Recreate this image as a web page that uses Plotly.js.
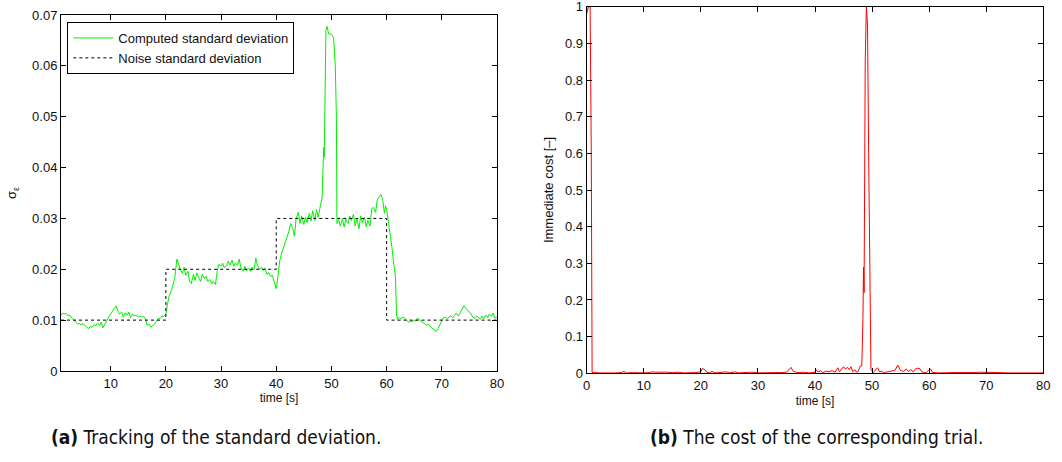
<!DOCTYPE html>
<html>
<head>
<meta charset="utf-8">
<script src="https://cdn.plot.ly/plotly-3.0.1.min.js"></script>
<style>html,body{margin:0;padding:0;background:#fff;}#chart{width:1062px;height:462px;}</style>
</head>
<body>
<div id="chart"></div>
<script>
// ---- Data ----
const computedTime = [1,1.3,1.6,2,2.3,2.6,3,3.3,3.6,4,4.3,4.6,5,5.3,5.6,6,6.3,6.6,7,7.3,7.6,8,8.3,8.6,9,9.3,9.6,10,10.3,10.6,11,11.3,11.6,12,12.3,12.6,13,13.3,13.6,14,14.3,14.6,15,15.3,15.6,16,16.3,16.6,17,17.3,17.6,18,18.3,18.6,19,19.3,19.6,20,20.3,20.6,21,21.3,21.6,22,22.3,22.6,23,23.3,23.6,24,24.3,24.6,25,25.3,25.6,26,26.3,26.6,27,27.3,27.6,28,28.3,28.6,29,29.3,29.6,30,30.3,30.6,31,31.3,31.6,32,32.3,32.6,33,33.3,33.6,34,34.3,34.6,35,35.3,35.6,36,36.3,36.6,37,37.3,37.6,38,38.3,38.6,39,39.3,39.6,40,40.3,40.6,41,41.3,41.6,42,42.3,42.6,43,43.3,43.6,44,44.3,44.6,45,45.3,45.6,46,46.3,46.6,47,47.3,47.6,48,48.3,48.6,48.7,49,49.2,49.5,50,50.4,50.7,50.9,51,51.3,51.6,52,52.3,52.6,53,53.3,53.6,54,54.3,54.6,55,55.3,55.6,56,56.3,56.6,57,57.3,57.6,58,58.3,58.6,59,59.3,59.6,59.8,60,60.3,60.6,61,61.3,61.6,61.8,62,62.3,62.6,63,63.3,63.6,64,64.3,64.6,65,65.3,65.6,66,66.3,66.6,67,67.3,67.6,68,68.3,68.6,69,69.3,69.6,70,70.3,70.6,71,71.3,71.6,72,72.3,72.6,73,73.3,73.6,74,74.3,74.6,75,75.3,75.6,76,76.3,76.6,77,77.3,77.6,78,78.3,78.6,79,79.3,79.6,80];
const computedStd = [0.0110,0.0114,0.0112,0.0113,0.0108,0.0110,0.0104,0.0100,0.0096,0.0092,0.0094,0.0091,0.0093,0.0089,0.0087,0.0083,0.0088,0.0086,0.0091,0.0089,0.0094,0.0090,0.0096,0.0085,0.0092,0.0099,0.0106,0.0112,0.0116,0.0120,0.0128,0.0118,0.0112,0.0116,0.0106,0.0114,0.0110,0.0116,0.0105,0.0112,0.0108,0.0110,0.0106,0.0108,0.0106,0.0107,0.0102,0.0090,0.0092,0.0086,0.0089,0.0093,0.0098,0.0103,0.0104,0.0108,0.0107,0.0112,0.0132,0.0148,0.0158,0.0168,0.0182,0.0220,0.0208,0.0200,0.0192,0.0204,0.0188,0.0196,0.0176,0.0172,0.0190,0.0178,0.0193,0.0184,0.0176,0.0190,0.0182,0.0186,0.0176,0.0180,0.0172,0.0176,0.0170,0.0196,0.0210,0.0206,0.0212,0.0203,0.0207,0.0216,0.0208,0.0218,0.0206,0.0212,0.0208,0.0220,0.0203,0.0196,0.0206,0.0198,0.0202,0.0196,0.0204,0.0200,0.0222,0.0207,0.0200,0.0204,0.0198,0.0202,0.0190,0.0194,0.0186,0.0188,0.0178,0.0162,0.0185,0.0215,0.0232,0.0242,0.0250,0.0268,0.0275,0.0290,0.0280,0.0265,0.0300,0.0312,0.0290,0.0305,0.0288,0.0302,0.0292,0.0310,0.0295,0.0315,0.0296,0.0318,0.0302,0.0325,0.0340,0.0440,0.0420,0.0670,0.0678,0.0663,0.0662,0.0655,0.0600,0.0500,0.0290,0.0298,0.0285,0.0300,0.0283,0.0298,0.0290,0.0305,0.0296,0.0308,0.0285,0.0300,0.0280,0.0305,0.0292,0.0302,0.0283,0.0296,0.0285,0.0318,0.0322,0.0312,0.0336,0.0342,0.0347,0.0335,0.0310,0.0325,0.0318,0.0295,0.0275,0.0240,0.0210,0.0185,0.0110,0.0102,0.0105,0.0103,0.0106,0.0102,0.0100,0.0096,0.0098,0.0097,0.0100,0.0098,0.0104,0.0100,0.0097,0.0094,0.0092,0.0090,0.0092,0.0086,0.0083,0.0080,0.0078,0.0083,0.0090,0.0098,0.0105,0.0106,0.0103,0.0106,0.0108,0.0105,0.0110,0.0114,0.0108,0.0115,0.0120,0.0128,0.0124,0.0120,0.0117,0.0112,0.0106,0.0104,0.0108,0.0105,0.0102,0.0108,0.0103,0.0110,0.0105,0.0112,0.0108,0.0114,0.0104,0.0106];

const noiseTime = [1,20,40,60,80];
const noiseStd = [0.01,0.02,0.03,0.01,0.01];

const costTime = [0,0.3,0.6,0.8,0.95,1.5,2,3,4,5,6,6.5,7,8,9,10,11,11.5,12,13,14,15,16,17,18,19,20,20.3,20.7,21,21.5,22,22.5,23.5,24.5,25,26,26.5,28,29,30,31,32,33,34,35,35.8,36.2,36.5,37,38,39,40,40.2,40.5,41,41.3,42,42.3,43,43.5,44,44.3,45,45.3,45.7,46,46.3,46.6,47,47.3,47.6,47.9,48.2,48.4,48.5,48.6,48.8,49,49.2,49.4,49.6,49.8,50.2,50.6,51,51.3,51.7,52,53,53.5,54,54.5,55,55.5,56,56.4,56.8,57.2,57.6,58,58.4,58.8,59.5,60,60.3,60.6,62,64,66,68,69,70,71,72,74,76,78,80];
const costValue = [0.98,1.0,1.0,0.6,0.002,0.003,0.001,0.002,0.001,0.001,0.002,0.005,0.001,0.002,0.001,0.001,0.002,0.004,0.003,0.004,0.003,0.002,0.003,0.001,0.001,0.002,0.004,0.013,0.010,0.003,0.002,0.005,0.001,0.002,0.004,0.001,0.004,0.001,0.002,0.003,0.001,0.002,0.001,0.002,0.002,0.003,0.016,0.005,0.004,0.002,0.003,0.001,0.003,0.010,0.004,0.007,0.002,0.006,0.004,0.007,0.003,0.015,0.004,0.018,0.012,0.016,0.010,0.018,0.004,0.010,0.003,0.006,0.019,0.020,0.15,0.29,0.22,0.85,1.0,0.95,0.6,0.2,0.01,0.003,0.008,0.015,0.004,0.006,0.002,0.004,0.006,0.008,0.022,0.008,0.005,0.012,0.005,0.010,0.004,0.012,0.014,0.012,0.003,0.002,0.010,0.011,0.002,0.001,0.002,0.001,0.002,0.003,0.002,0.001,0.002,0.001,0.002,0.001,0.001];

const leftXTicks = [10,20,30,40,50,60,70,80];
const leftYTicks = [0,0.01,0.02,0.03,0.04,0.05,0.06,0.07];
const rightXTicks = [0,10,20,30,40,50,60,70,80];
const rightYTicks = [0,0.1,0.2,0.3,0.4,0.5,0.6,0.7,0.8,0.9,1];

const legendNames = ['Computed standard deviation','Noise standard deviation'];
const captionA = '<b>(a)</b> Tracking of the standard deviation.';
const captionB = '<b>(b)</b> The cost of the corresponding trial.';

// ---- Chart ----
const W = 1062, H = 462;
const font = 'Liberation Sans, Arial, sans-serif';
const tickFont = {family: font, size: 13, color: '#111'};
const capFont = {family: 'DejaVu Sans Condensed, DejaVu Sans, sans-serif', size: 19, color: '#111'};

function axisBase(extra) {
  return Object.assign({
    showline: true, linecolor: '#000', linewidth: 1, mirror: 'ticks',
    ticks: 'inside', ticklen: 5, tickcolor: '#000', tickwidth: 1,
    showgrid: false, zeroline: false, automargin: false,
    ticklabeloverflow: 'allow',
    tickfont: tickFont, tickmode: 'array', fixedrange: true
  }, extra);
}

const traces = [
  {x: computedTime, y: computedStd, type: 'scatter', mode: 'lines', name: legendNames[0],
   line: {color: '#00f000', width: 1}, xaxis: 'x', yaxis: 'y'},
  {x: noiseTime, y: noiseStd, type: 'scatter', mode: 'lines', name: legendNames[1],
   line: {color: '#000', width: 1, dash: 'dot', shape: 'hv'}, xaxis: 'x', yaxis: 'y'},
  {x: costTime, y: costValue, type: 'scatter', mode: 'lines', showlegend: false,
   line: {color: '#ff0000', width: 1}, xaxis: 'x2', yaxis: 'y2'}
];

const layout = {
  width: W, height: H,
  margin: {l: 0, r: 0, t: 0, b: 0},
  paper_bgcolor: '#fff', plot_bgcolor: '#fff',
  showlegend: true,
  font: {family: font, color: '#111'},
  xaxis: axisBase({domain: [61/W, 497/W], range: [1, 80], tickvals: leftXTicks,
    anchor: 'y', title: {text: 'time [s]', font: {size: 12, family: font}, standoff: 4}}),
  yaxis: axisBase({domain: [1 - 371/H, 1 - 15/H], range: [0, 0.07], tickvals: leftYTicks,
    anchor: 'x', title: {text: 'σ<sub>ε</sub>', font: {size: 13, family: font}, standoff: 12}}),
  xaxis2: axisBase({domain: [586.7/W, 1043.3/W], range: [0, 80], tickvals: rightXTicks,
    anchor: 'y2', title: {text: 'time [s]', font: {size: 12, family: font}, standoff: 4}}),
  yaxis2: axisBase({domain: [1 - 373.3/H, 1 - 6.7/H], range: [0, 1], tickvals: rightYTicks,
    anchor: 'x2', title: {text: 'Immediate cost [–]', font: {size: 13, family: font}, standoff: 8}}),
  legend: {x: 67.3/W, y: 1 - 22/H, xanchor: 'left', yanchor: 'top',
    bordercolor: '#000', borderwidth: 1, bgcolor: '#fff', itemwidth: 40,
    font: {family: font, size: 13, color: '#111'}, tracegroupgap: 0},
  annotations: [
    {xref: 'paper', yref: 'paper', x: 216/W, y: 1 - 437/H, xanchor: 'center', yanchor: 'middle',
     text: captionA, showarrow: false, font: capFont},
    {xref: 'paper', yref: 'paper', x: 816/W, y: 1 - 437/H, xanchor: 'center', yanchor: 'middle',
     text: captionB, showarrow: false, font: capFont}
  ]
};

Plotly.newPlot('chart', traces, layout, {displayModeBar: false, staticPlot: true});
</script>
</body>
</html>
